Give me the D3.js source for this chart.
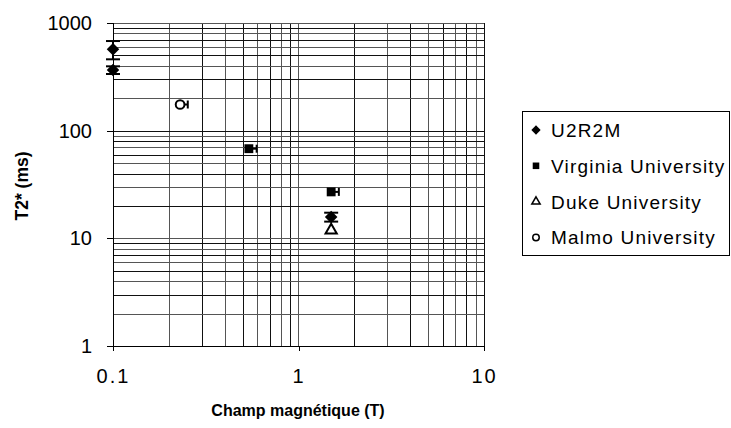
<!DOCTYPE html>
<html><head><meta charset="utf-8">
<script src="https://cdn.jsdelivr.net/npm/d3@7"></script>
<style>body{margin:0;background:#fff}svg{display:block}text{font-family:"Liberation Sans",Arial,sans-serif;fill:#000}</style>
</head><body><svg id="c" width="731" height="428"></svg>
<script>
// Data
const seriesNames = ["U2R2M", "Virginia University", "Duke University", "Malmo University"];
const u2r2mB = [0.1, 0.1, 1.5];
const u2r2mT2 = [570, 366, 15.8];
const u2r2mErrY = [110, 30, 1.5];
const virginiaB = [0.54, 1.5];
const virginiaT2 = [68, 27];
const virginiaErrX = [0.055, 0.15];
const dukeB = [1.5];
const dukeT2 = [11.9];
const malmoB = [0.23];
const malmoT2 = [175];
const malmoErrX = [0.023];
const xTickLabels = ["0.1", "1", "10"];
const yTickLabels = ["1", "10", "100", "1000"];

const svg = d3.select("#c");
const x = d3.scaleLog().domain([0.1, 10]).range([113, 484]);
const y = d3.scaleLog().domain([1, 1000]).range([346, 23]);

// grid
const xGrid = [], yGrid = [];
[0.1, 1].forEach(d => { for (let k = 1; k <= 9; k++) xGrid.push(+(d * k).toPrecision(3)); });
xGrid.push(10);
[1, 10, 100].forEach(d => { for (let k = 1; k <= 9; k++) yGrid.push(d * k); });
yGrid.push(1000);
const g = svg.append("g").attr("shape-rendering", "crispEdges");
g.selectAll(".vx").data(xGrid).enter().append("line")
  .attr("x1", d => Math.round(x(d)) + 0.5).attr("x2", d => Math.round(x(d)) + 0.5)
  .attr("y1", y(1000)).attr("y2", y(1))
  .attr("stroke", (d, i) => i % 2 ? "#555" : "#111").attr("stroke-width", 1);
g.selectAll(".hy").data(yGrid).enter().append("line")
  .attr("y1", d => Math.round(y(d)) + 0.5).attr("y2", d => Math.round(y(d)) + 0.5)
  .attr("x1", x(0.1)).attr("x2", x(10))
  .attr("stroke", (d, i) => i % 2 ? "#555" : "#111").attr("stroke-width", 1);

// axes
const xAxis = d3.axisBottom(x).tickValues(xTickLabels.map(Number)).tickFormat((d, i) => xTickLabels[i]).tickSize(5).tickPadding(18);
const yAxis = d3.axisLeft(y).tickValues(yTickLabels.map(Number)).tickFormat((d, i) => yTickLabels[i]).tickSize(6).tickPadding(15);
const gx = svg.append("g").attr("transform", "translate(0,346)").call(xAxis);
const gy = svg.append("g").attr("transform", "translate(113,0)").call(yAxis);
[gx, gy].forEach(a => {
  a.selectAll("path,line").attr("stroke", "#000").attr("shape-rendering", "crispEdges");
  a.selectAll("text").attr("font-size", 20).attr("font-family", "Liberation Sans, Arial, sans-serif");
});
gx.select(".domain").attr("d", "M113,0.5H484");
gy.select(".domain").attr("d", "M0.5,23V346");
gx.selectAll("text").attr("letter-spacing", "2px");

// titles
svg.append("text").attr("x", 298).attr("y", 416).attr("text-anchor", "middle")
  .attr("font-weight", "bold").attr("font-size", 16).attr("letter-spacing", "0px").text("Champ magnétique (T)");
svg.append("text").attr("transform", "translate(28,186) rotate(-90)").attr("text-anchor", "middle")
  .attr("font-weight", "bold").attr("font-size", 17.5).text("T2* (ms)");

// error bars
const eb = svg.append("g").attr("stroke", "#000").attr("stroke-width", 2).attr("fill", "none");
u2r2mB.forEach((b, i) => {
  const cx = x(b), y1 = y(u2r2mT2[i] + u2r2mErrY[i]), y2 = y(u2r2mT2[i] - u2r2mErrY[i]);
  eb.append("line").attr("x1", cx).attr("x2", cx).attr("y1", y1).attr("y2", y2);
  eb.append("line").attr("x1", cx - 7).attr("x2", cx + 7).attr("y1", y1).attr("y2", y1);
  eb.append("line").attr("x1", cx - 7).attr("x2", cx + 7).attr("y1", y2).attr("y2", y2);
});
function hbar(b, v, e) {
  const cy = y(v), x1 = x(b), x2 = x(b + e);
  eb.append("line").attr("x1", x1).attr("x2", x2).attr("y1", cy).attr("y2", cy);
  eb.append("line").attr("x1", x2).attr("x2", x2).attr("y1", cy - 4).attr("y2", cy + 4);
}
virginiaB.forEach((b, i) => hbar(b, virginiaT2[i], virginiaErrX[i]));
malmoB.forEach((b, i) => hbar(b, malmoT2[i], malmoErrX[i]));

// markers
const sym = {
  "U2R2M": { t: d3.symbolDiamond2, size: 100, fill: "#000", stroke: "none" },
  "Virginia University": { t: d3.symbolSquare2, size: 100, fill: "#000", stroke: "none" },
  "Duke University": { t: d3.symbolTriangle2, size: 90, fill: "#fff", stroke: "#000" },
  "Malmo University": { t: d3.symbolCircle, size: 60, fill: "#fff", stroke: "#000" }
};
function pts(name, xs, ys) {
  const s = sym[name];
  svg.append("g").selectAll("path").data(xs).enter().append("path")
    .attr("transform", (d, i) => `translate(${x(d)},${y(ys[i])})`)
    .attr("d", d3.symbol().type(s.t).size(s.size))
    .attr("fill", s.fill).attr("stroke", s.stroke).attr("stroke-width", 2);
}
pts("Virginia University", virginiaB, virginiaT2);
pts("Duke University", dukeB, dukeT2);
pts("Malmo University", malmoB, malmoT2);
pts("U2R2M", u2r2mB, u2r2mT2);

// legend
const lg = svg.append("g");
lg.append("rect").attr("x", 522.5).attr("y", 111.5).attr("width", 207).attr("height", 144)
  .attr("fill", "#fff").attr("stroke", "#000").attr("shape-rendering", "crispEdges");
seriesNames.forEach((n, i) => {
  const cy = 130 + i * 35.8, s = sym[n];
  lg.append("path").attr("transform", `translate(536,${cy})`)
    .attr("d", d3.symbol().type(s.t).size(s.size * 0.55))
    .attr("fill", s.fill).attr("stroke", s.stroke).attr("stroke-width", 1.5);
  lg.append("text").attr("x", 551).attr("y", cy + 7).attr("font-size", 19).attr("letter-spacing", "1.2px").text(n);
});
</script></body></html>
